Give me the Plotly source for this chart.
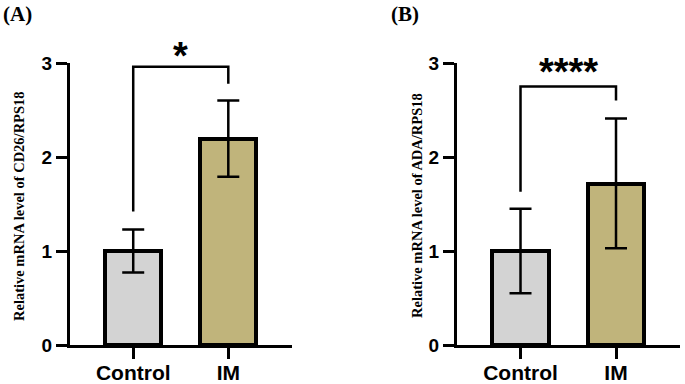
import plotly.graph_objects as go

groups = ["Control", "IM"]
cd26_mean = [1.0, 2.19]
cd26_err_up = [0.23, 0.41]
cd26_err_down = [0.23, 0.40]
ada_mean = [1.0, 1.71]
ada_err_up = [0.45, 0.70]
ada_err_down = [0.45, 0.68]
bar_colors = ["#d3d3d3", "#c0b47b"]
y_ticks = [0, 1, 2, 3]
# significance brackets: [left leg bottom, top, right leg bottom]
cd26_bracket = [1.42, 2.96, 2.78]
ada_bracket = [1.63, 2.75, 2.60]
cd26_sig = "*"
ada_sig = "****"
ytitle_a = "Relative mRNA level of CD26/RPS18"
ytitle_b = "Relative mRNA level of ADA/RPS18"

W, H = 685, 384
SANS = "Liberation Sans"
SERIF = "Liberation Serif"
fig = go.Figure()

xpos = [0, 1]
for i, (mean, up, dn) in enumerate([(cd26_mean, cd26_err_up, cd26_err_down),
                                     (ada_mean, ada_err_up, ada_err_down)]):
    fig.add_trace(go.Bar(
        x=xpos, y=mean, width=0.59,
        marker=dict(color=bar_colors, line=dict(color="black", width=4)),
        error_y=dict(type="data", symmetric=False, array=up, arrayminus=dn,
                     color="black", thickness=2.5, width=11),
        xaxis="x" if i == 0 else "x2", yaxis="y" if i == 0 else "y2",
        showlegend=False, hoverinfo="skip"))

ydom = [(H - 345) / H, (H - 63) / H]
base = dict(showline=True, linecolor="black", linewidth=3, ticks="outside",
            ticklen=11, tickwidth=3, tickcolor="black", showgrid=False,
            zeroline=False, automargin=False)
xfont = dict(family=SANS, size=21, color="black", weight="bold")
yfont = dict(family=SANS, size=19, color="black", weight="bold")
xr = [-0.665, 1.67]
fig.update_layout(
    width=W, height=H, margin=dict(l=0, r=0, t=0, b=0, pad=0, autoexpand=False),
    plot_bgcolor="white", paper_bgcolor="white", bargap=0,
    xaxis=dict(domain=[70 / W, 292 / W], range=xr, tickvals=xpos, ticktext=groups,
               anchor="y", tickfont=xfont, ticklabelstandoff=-4, **base),
    xaxis2=dict(domain=[457 / W, 680 / W], range=xr, tickvals=xpos, ticktext=groups,
                anchor="y2", tickfont=xfont, ticklabelstandoff=-4, **base),
    yaxis=dict(domain=ydom, range=[0, 3], tickvals=y_ticks, anchor="x", tickfont=yfont, **base),
    yaxis2=dict(domain=ydom, range=[0, 3], tickvals=y_ticks, anchor="x2", tickfont=yfont, **base),
)

# brackets
for xref, yref, br in [("x", "y", cd26_bracket), ("x2", "y2", ada_bracket)]:
    fig.add_shape(type="path", xref=xref, yref=yref,
                  path=f"M {xpos[0]} {br[0]} L {xpos[0]} {br[1]} L {xpos[1]} {br[1]} L {xpos[1]} {br[2]}",
                  line=dict(color="black", width=2.5))

fig.add_annotation(x=0.5, y=cd26_bracket[1], xref="x", yref="y", text=cd26_sig,
                   showarrow=False, yanchor="bottom", yshift=-12,
                   font=dict(family=SANS, size=38, color="black", weight="bold"))
fig.add_annotation(x=0.5, y=ada_bracket[1], xref="x2", yref="y2", text=ada_sig,
                   showarrow=False, yanchor="bottom", yshift=-8,
                   font=dict(family=SANS, size=38, color="black", weight="bold"))

# y titles
fig.add_annotation(x=19 / W, y=(H - 206) / H, xref="paper", yref="paper", text=ytitle_a,
                   showarrow=False, textangle=-90, xanchor="center", yanchor="middle",
                   font=dict(family=SERIF, size=14.5, color="black", weight="bold"))
fig.add_annotation(x=417 / W, y=(H - 206) / H, xref="paper", yref="paper", text=ytitle_b,
                   showarrow=False, textangle=-90, xanchor="center", yanchor="middle",
                   font=dict(family=SERIF, size=14.5, color="black", weight="bold"))

# panel labels
fig.add_annotation(x=1 / W, y=1 - 14 / H, xref="paper", yref="paper", text="(A)",
                   showarrow=False, xanchor="left", yanchor="middle",
                   font=dict(family=SERIF, size=21, color="black", weight="bold"))
fig.add_annotation(x=389 / W, y=1 - 14 / H, xref="paper", yref="paper", text="(B)",
                   showarrow=False, xanchor="left", yanchor="middle",
                   font=dict(family=SERIF, size=21, color="black", weight="bold"))

fig.write_html("out.html", config={"displayModeBar": False},
               post_script="document.body.style.margin='0px';")
